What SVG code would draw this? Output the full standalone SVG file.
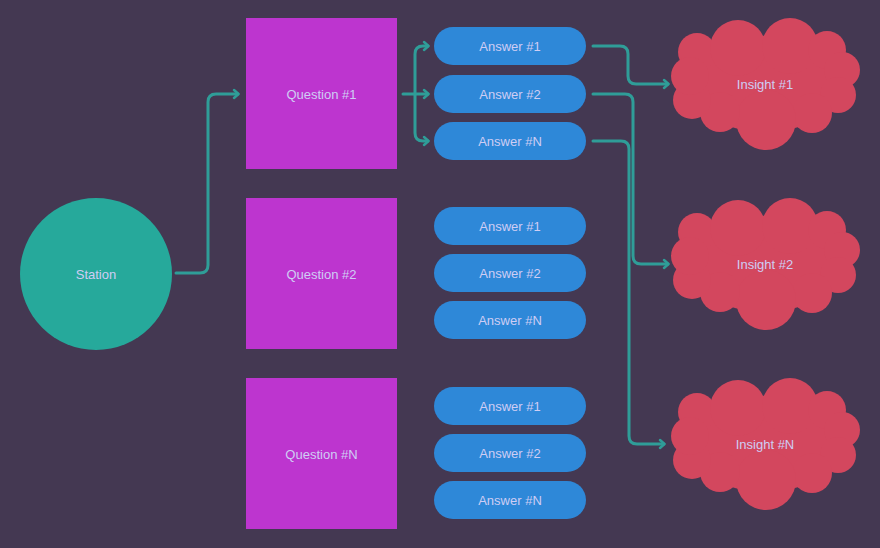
<svg xmlns="http://www.w3.org/2000/svg" xmlns:xlink="http://www.w3.org/1999/xlink" width="880" height="548" viewBox="0 0 880 548">
<style>
text{font-family:"Liberation Sans","DejaVu Sans",sans-serif;font-size:13px;fill:#cfcdf4;text-anchor:middle;dominant-baseline:central}
.q{fill:#bd35cf}
.a{fill:#2e88d8}
.st{fill:#26a99b}
.cl{fill:#d3475e}
.c{fill:none;stroke:#2f9d98;stroke-width:3;stroke-linecap:round;stroke-linejoin:round}
</style>
<defs>
<marker id="arr" viewBox="0 0 10 10" refX="8" refY="5" markerWidth="10" markerHeight="10" orient="auto" markerUnits="userSpaceOnUse" overflow="visible">
<path d="M4,1 L8.5,5 L4,9" fill="none" stroke="#2f9d98" stroke-width="2.5" stroke-linecap="round" stroke-linejoin="round"/>
</marker>
<g id="cloud">
<ellipse cx="0" cy="0" rx="76" ry="48"/>
<circle cx="-68" cy="-32" r="19"/>
<circle cx="-27" cy="-36" r="28"/>
<circle cx="25" cy="-38" r="28"/>
<circle cx="62" cy="-34" r="19"/>
<circle cx="77" cy="-14" r="18"/>
<circle cx="73" cy="11" r="18"/>
<circle cx="47" cy="29" r="20"/>
<circle cx="1" cy="36" r="30"/>
<circle cx="-45" cy="28" r="20"/>
<circle cx="-73" cy="16" r="19"/>
<circle cx="-75" cy="-8" r="19"/>
</g>
</defs>
<rect width="880" height="548" fill="#443852"/>

<g id="connectors">
<path class="c" d="M176,273 H200 Q208,273 208,265 V102 Q208,94 216,94 H238" marker-end="url(#arr)"/>
<path class="c" d="M403,94 H428" marker-end="url(#arr)"/>
<path class="c" d="M415,94 V54 Q415,46 423,46 H428" marker-end="url(#arr)"/>
<path class="c" d="M415,94 V133 Q415,141 423,141 H428" marker-end="url(#arr)"/>
<path class="c" d="M593,46 H620 Q628,46 628,54 V76 Q628,84 636,84 H668" marker-end="url(#arr)"/>
<path class="c" d="M593,94 H625 Q633,94 633,102 V256 Q633,264 641,264 H668" marker-end="url(#arr)"/>
<path class="c" d="M593,141 H621 Q629,141 629,149 V436 Q629,444 637,444 H664" marker-end="url(#arr)"/>
</g>

<g id="station"><circle class="st" cx="96" cy="274" r="76"/><text x="96" y="274">Station</text></g>

<g id="q1"><rect class="q" x="246" y="18" width="151" height="151"/><text x="321.5" y="94">Question #1</text></g>
<g id="q2"><rect class="q" x="246" y="198" width="151" height="151"/><text x="321.5" y="274">Question #2</text></g>
<g id="qn"><rect class="q" x="246" y="378" width="151" height="151"/><text x="321.5" y="454">Question #N</text></g>

<g id="q1a1"><rect class="a" x="434" y="27" width="152" height="38" rx="19"/><text x="510" y="46">Answer #1</text></g>
<g id="q1a2"><rect class="a" x="434" y="75" width="152" height="38" rx="19"/><text x="510" y="94">Answer #2</text></g>
<g id="q1an"><rect class="a" x="434" y="122" width="152" height="38" rx="19"/><text x="510" y="141">Answer #N</text></g>

<g id="q2a1"><rect class="a" x="434" y="207" width="152" height="38" rx="19"/><text x="510" y="226">Answer #1</text></g>
<g id="q2a2"><rect class="a" x="434" y="254" width="152" height="38" rx="19"/><text x="510" y="273">Answer #2</text></g>
<g id="q2an"><rect class="a" x="434" y="301" width="152" height="38" rx="19"/><text x="510" y="320">Answer #N</text></g>

<g id="qna1"><rect class="a" x="434" y="387" width="152" height="38" rx="19"/><text x="510" y="406">Answer #1</text></g>
<g id="qna2"><rect class="a" x="434" y="434" width="152" height="38" rx="19"/><text x="510" y="453">Answer #2</text></g>
<g id="qnan"><rect class="a" x="434" y="481" width="152" height="38" rx="19"/><text x="510" y="500">Answer #N</text></g>

<g id="insight1"><use xlink:href="#cloud" class="cl" x="765" y="84"/><text x="765" y="84">Insight #1</text></g>
<g id="insight2"><use xlink:href="#cloud" class="cl" x="765" y="264"/><text x="765" y="264">Insight #2</text></g>
<g id="insightn"><use xlink:href="#cloud" class="cl" x="765" y="444"/><text x="765" y="444">Insight #N</text></g>
</svg>
